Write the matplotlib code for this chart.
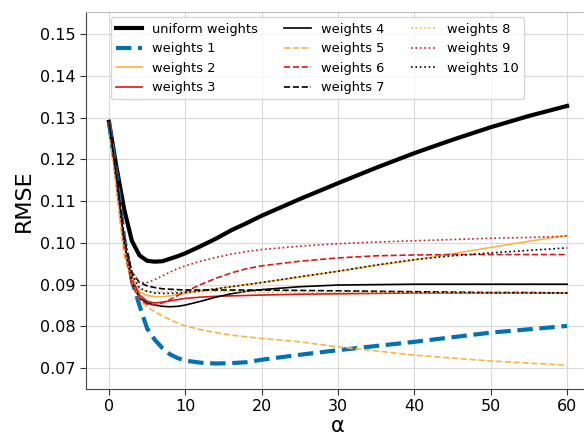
import matplotlib
matplotlib.use("Agg")
import matplotlib.pyplot as plt

alpha = [0, 1, 2, 3, 4, 5, 6, 7, 8, 9, 10, 12, 14, 16, 18, 20, 25, 30, 35, 40, 45, 50, 55, 60]

uniform = [0.129, 0.118, 0.108, 0.1005, 0.097, 0.0957, 0.0955, 0.0956, 0.0962, 0.0968, 0.0975, 0.0992,
           0.1010, 0.1030, 0.1047, 0.1065, 0.1105, 0.1143, 0.1180, 0.1215, 0.1247, 0.1277, 0.1304, 0.1328]
w1 = [0.129, 0.116, 0.101, 0.091, 0.085, 0.0795, 0.0768, 0.0748, 0.0733, 0.0724, 0.0718, 0.0713,
      0.0711, 0.0712, 0.0714, 0.0720, 0.0732, 0.0743, 0.0753, 0.0763, 0.0774, 0.0785, 0.0793, 0.0801]
w2 = [0.129, 0.115, 0.100, 0.0915, 0.0882, 0.0874, 0.0871, 0.0871, 0.0873, 0.0876, 0.0879, 0.0885,
      0.0890, 0.0895, 0.0900, 0.0905, 0.0918, 0.0932, 0.0946, 0.0959, 0.0974, 0.0989, 0.1004, 0.1018]
w3 = [0.129, 0.115, 0.100, 0.0915, 0.0875, 0.0860, 0.0856, 0.0858, 0.0861, 0.0864, 0.0867, 0.0870,
      0.0872, 0.0873, 0.0874, 0.0875, 0.0877, 0.0878, 0.0879, 0.0880, 0.0880, 0.0880, 0.0880, 0.0880]
w4 = [0.129, 0.115, 0.100, 0.0905, 0.0868, 0.0856, 0.0851, 0.0848, 0.0847, 0.0848, 0.0851, 0.0860,
      0.0870, 0.0878, 0.0884, 0.0888, 0.0895, 0.0899, 0.0900, 0.0901, 0.0901, 0.0901, 0.0901, 0.0901]
w5 = [0.129, 0.112, 0.097, 0.0905, 0.0865, 0.0846, 0.0835, 0.0825, 0.0816, 0.0808, 0.0801, 0.0792,
      0.0785, 0.0779, 0.0775, 0.0771, 0.0763, 0.0751, 0.0741, 0.0731, 0.0724, 0.0717, 0.0712, 0.0707]
w6 = [0.129, 0.115, 0.099, 0.0900, 0.0865, 0.0853, 0.0851, 0.0856, 0.0864, 0.0874, 0.0883, 0.0900,
      0.0915, 0.0928, 0.0938, 0.0945, 0.0956, 0.0964, 0.0969, 0.0971, 0.0972, 0.0972, 0.0972, 0.0972]
w7 = [0.129, 0.116, 0.101, 0.093, 0.0905, 0.0897, 0.0893, 0.0890, 0.0889, 0.0888, 0.0887, 0.0887,
      0.0887, 0.0887, 0.0887, 0.0887, 0.0886, 0.0885, 0.0884, 0.0883, 0.0882, 0.0881, 0.0881, 0.0880]
w8 = [0.129, 0.113, 0.099, 0.0915, 0.0888, 0.0884, 0.0883, 0.0883, 0.0883, 0.0883, 0.0883, 0.0883,
      0.0883, 0.0883, 0.0883, 0.0882, 0.0882, 0.0882, 0.0881, 0.0881, 0.0881, 0.0880, 0.0880, 0.0880]
w9 = [0.129, 0.116, 0.101, 0.093, 0.0905, 0.0905, 0.0912, 0.0921, 0.0930, 0.0938, 0.0945, 0.0956,
      0.0965, 0.0973, 0.0979, 0.0984, 0.0992, 0.0998, 0.1002, 0.1005, 0.1008, 0.1011, 0.1013, 0.1016]
w10 = [0.129, 0.116, 0.101, 0.0925, 0.0892, 0.0884, 0.0880, 0.0879, 0.0879, 0.0880, 0.0881, 0.0885,
       0.0890, 0.0895, 0.0900, 0.0905, 0.0919, 0.0932, 0.0947, 0.0960, 0.0969, 0.0976, 0.0982, 0.0988]

BLUE = "#0072b2"
ORANGE = "#fbb448"
RED = "#d7191c"

fig = plt.figure(figsize=(5.84, 4.38), dpi=100)
ax = fig.add_axes([0.1473, 0.1119, 0.863, 0.8607])

ax.plot(alpha, uniform, color="black", lw=3, label="uniform weights")
ax.plot(alpha, w1, color=BLUE, lw=3, ls="--", label="weights 1")
ax.plot(alpha, w2, color=ORANGE, lw=1.2, ls="-", label="weights 2")
ax.plot(alpha, w3, color=RED, lw=1.2, ls="-", label="weights 3")
ax.plot(alpha, w4, color="black", lw=1.2, ls="-", label="weights 4")
ax.plot(alpha, w5, color=ORANGE, lw=1.2, ls="--", label="weights 5")
ax.plot(alpha, w6, color=RED, lw=1.2, ls="--", label="weights 6")
ax.plot(alpha, w7, color="black", lw=1.2, ls="--", label="weights 7")
ax.plot(alpha, w8, color=ORANGE, lw=1.2, ls=":", label="weights 8")
ax.plot(alpha, w9, color=RED, lw=1.2, ls=":", label="weights 9")
ax.plot(alpha, w10, color="black", lw=1.2, ls=":", label="weights 10")

ax.set_xlim(-3, 63)
ax.set_ylim(0.065, 0.1553)
ax.set_xticks([0, 10, 20, 30, 40, 50, 60])
ax.set_yticks([0.07, 0.08, 0.09, 0.10, 0.11, 0.12, 0.13, 0.14, 0.15])
ax.set_yticklabels(["0.07", "0.08", "0.09", "0.10", "0.11", "0.12", "0.13", "0.14", "0.15"])
ax.tick_params(labelsize=11.5, colors="#333333", length=4, labelcolor="black")
ax.grid(True, color="#d9d9d9", lw=0.8)
ax.set_axisbelow(True)
ax.spines["left"].set_color("#444444")
ax.spines["bottom"].set_color("#444444")
ax.spines["top"].set_color("#bbbbbb")
ax.spines["right"].set_visible(False)

ax.set_xlabel("α", fontsize=15, labelpad=1)
ax.set_ylabel("RMSE", fontsize=16)

ax.legend(ncol=3, loc="upper left", bbox_to_anchor=(0.036, 1.003), fontsize=9.4,
          framealpha=0.8, edgecolor="#cccccc")

fig.savefig("out.png", dpi=100)
